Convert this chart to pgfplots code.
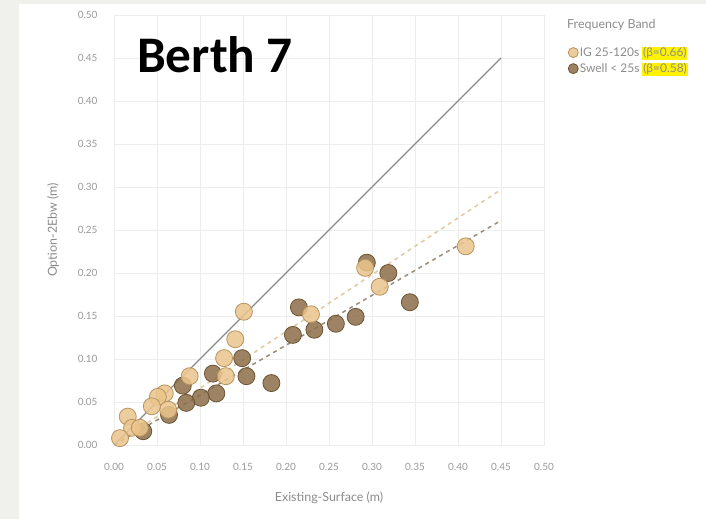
\documentclass[border=0pt]{standalone}
\usepackage{pgfplots}
\pgfplotsset{compat=1.18}
\usepackage{fontspec}
\setmainfont{Lato}
\newfontfamily\carlito{Carlito}
\definecolor{bggray}{HTML}{F0F0EC}
\definecolor{gridc}{HTML}{EDEDED}
\definecolor{tickc}{HTML}{999999}
\definecolor{labc}{HTML}{8C8C8C}
\definecolor{igfill}{HTML}{EBC58C}
\definecolor{igdraw}{HTML}{B8935E}
\definecolor{swfill}{HTML}{8C6E48}
\definecolor{swdraw}{HTML}{6B5434}
\definecolor{oneline}{HTML}{8A8A8A}
\definecolor{igline}{HTML}{E2C9A2}
\definecolor{swline}{HTML}{9A8C78}
\definecolor{hl}{HTML}{FFF200}
\setlength{\fboxsep}{0.8pt}
\begin{document}
\begin{tikzpicture}[x=1bp,y=1bp]
\fill[bggray] (0,0) rectangle (706,519);
\fill[white] (19,0) rectangle (706,515);
\begin{axis}[
  at={(114bp,74bp)}, anchor=south west,
  scale only axis, width=430bp, height=430bp,
  xmin=0, xmax=0.5, ymin=0, ymax=0.5,
  xtick={0,0.05,...,0.5}, ytick={0,0.05,...,0.5},
  /pgf/number format/fixed,
  /pgf/number format/fixed zerofill,
  /pgf/number format/precision=2,
  /pgf/number format/assume math mode=true,
  ticklabel style={font=\fontsize{10}{11}\selectfont, text=tickc},
  xticklabel style={yshift=-15bp},
  yticklabel style={xshift=-13bp},
  major tick length=0pt,
  grid=major, grid style={gridc, line width=0.8bp},
  axis line style={gridc, line width=0.8bp},
  xlabel={Existing-Surface (m)}, ylabel={Option-2Ebw (m)},
  label style={font=\fontsize{12.5}{14}\selectfont, text=labc},
  xlabel style={yshift=-14bp},
  ylabel style={yshift=12bp},
  legend style={at={(1.056,0.93)}, anchor=north west, draw=none, fill=none,
    font=\fontsize{12}{13}\selectfont, text=labc, row sep=1.5bp,
    inner sep=0pt, nodes={inner sep=1.5bp}},
  legend cell align=left,
  reverse legend,
  legend image code/.code={\draw[#1, mark size=5bp] plot coordinates {(0.2em,0)};},
  clip=true,
]
\addplot[oneline, line width=1.3bp, forget plot] coordinates {(0,0) (0.45,0.45)};
\addplot[igline, line width=1.5bp, dash pattern=on 4bp off 4bp, forget plot] coordinates {(0,0) (0.45,0.297)};
\addplot[swline, line width=1.5bp, dash pattern=on 4bp off 4bp, forget plot] coordinates {(0,0) (0.45,0.261)};
\addplot[only marks, mark=*, mark size=8.5bp, mark options={fill=swfill, draw=swdraw, line width=0.8bp, fill opacity=0.85}] coordinates {
(0.294,0.212) (0.319,0.200) (0.344,0.166) (0.281,0.149) (0.258,0.141)
(0.233,0.134) (0.208,0.128) (0.215,0.160) (0.183,0.072) (0.154,0.080)
(0.149,0.101) (0.115,0.083) (0.119,0.060) (0.101,0.055) (0.084,0.049)
(0.080,0.069) (0.064,0.035) (0.034,0.016)
};
\addplot[only marks, mark=*, mark size=8.5bp, mark options={fill=igfill, draw=igdraw, line width=0.8bp, fill opacity=0.85}] coordinates {
(0.151,0.155) (0.141,0.123) (0.128,0.101) (0.130,0.080) (0.088,0.080)
(0.059,0.060) (0.051,0.056) (0.063,0.041) (0.044,0.045) (0.016,0.033)
(0.021,0.020) (0.007,0.008) (0.030,0.020) (0.292,0.206) (0.309,0.184)
(0.229,0.152) (0.409,0.231)
};
\legend{Swell < 25s \colorbox{hl}{(β=0.58)}, IG 25-120s \colorbox{hl}{(β=0.66)}}
\end{axis}
\node[anchor=base west, inner sep=0, font=\carlito\bfseries\fontsize{51.5}{56}\selectfont] at (137,446) {Berth 7};
\node[anchor=west, inner sep=0, font=\fontsize{12.5}{14}\selectfont, text=labc] at (567,494) {Frequency Band};
\end{tikzpicture}
\end{document}
